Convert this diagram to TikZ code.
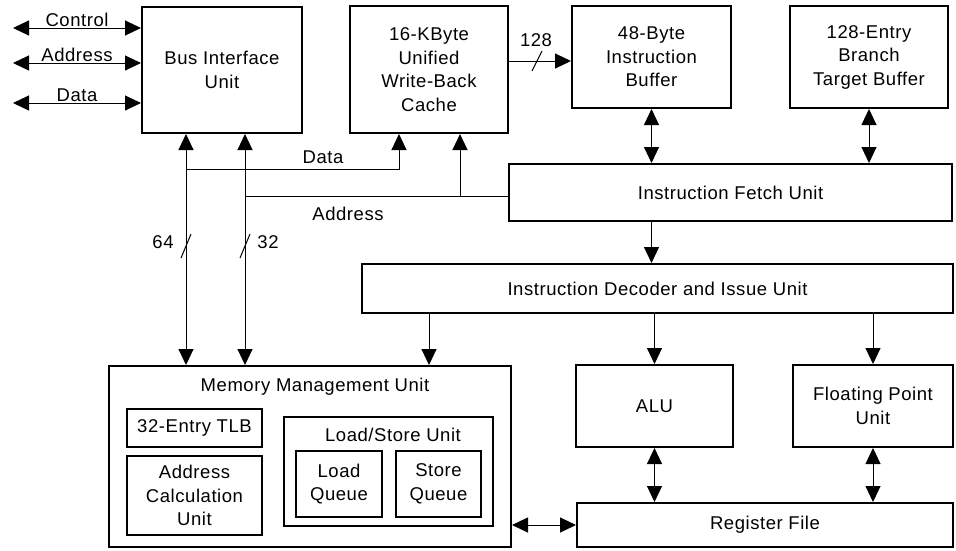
\documentclass[tikz,border=0pt]{standalone}
\usepackage{fontspec}
\setmainfont{Liberation Sans}[LetterSpace=3]
\usetikzlibrary{arrows.meta}

\begin{document}
\begin{tikzpicture}[
  x=1pt, y=-1pt,
  font=\fontsize{18.5}{23.5}\selectfont,
  >={Triangle[length=16pt,width=15pt]},
  unit/.style={draw, line width=2pt, align=center, inner sep=0pt},
  part/.style={draw, line width=1.3pt, align=center, inner sep=0pt},
  bus/.style={line width=1pt},
  lbl/.style={inner sep=1pt},
]

\useasboundingbox (0,0) rectangle (956,550);

% top row
\node [unit, minimum width=160pt, minimum height=126pt] (biu) at (222,70) {Bus Interface\\Unit};
\node [unit, minimum width=158pt, minimum height=127pt] (cache) at (429,69.5) {16-KByte\\Unified\\Write-Back\\Cache};
\node [unit, minimum width=159pt, minimum height=102pt] (ib) at (651.5,57) {48-Byte\\Instruction\\Buffer};
\node [unit, minimum width=158pt, minimum height=102pt] (btb) at (869,57) {128-Entry\\Branch\\Target Buffer};

\node [unit, minimum width=443pt, minimum height=57pt] (ifu) at (730.5,192.5) {Instruction Fetch Unit};
\node [unit, minimum width=591pt, minimum height=49pt] (idiu) at (657.5,288.5) {Instruction Decoder and Issue Unit};

% memory management
\node [unit, minimum width=402pt, minimum height=181pt] (mmu) at (310,456.5) {};
\node [lbl] (mmutitle) at (315,387) {Memory Management Unit};
\node [part, minimum width=135pt, minimum height=38pt] (tlb) at (194.5,428) {32-Entry TLB};
\node [part, minimum width=135pt, minimum height=79pt] (acu) at (194.5,495.5) {Address\\Calculation\\Unit};
\node [part, minimum width=209pt, minimum height=109pt] (lsu) at (388.5,471.5) {};
\node [lbl] (lsutitle) at (393,435) {Load/Store Unit};
\node [part, minimum width=86pt, minimum height=66pt] (lq) at (339,484) {Load\\Queue};
\node [part, minimum width=85pt, minimum height=66pt] (sq) at (438.5,484) {Store\\Queue};

% execution
\node [unit, minimum width=157pt, minimum height=82pt] (alu) at (654.5,406) {ALU};
\node [unit, minimum width=160pt, minimum height=82pt] (fpu) at (873,406) {Floating Point\\Unit};
\node [unit, minimum width=376pt, minimum height=44pt] (rf) at (765,525) {Register File};

% external bus
\coordinate (ctl) at (13,28);
\coordinate (adrin) at (13,63);
\coordinate (datin) at (13,103);
\draw [bus, <->] (ctl) -- (ctl -| biu.west) node [lbl, midway, above] (ctllbl) {Control};
\draw [bus, <->] (adrin) -- (adrin -| biu.west) node [lbl, midway, above] (adrlbl) {Address};
\draw [bus, <->] (datin) -- (datin -| biu.west) node [lbl, midway, above] (datlbl) {Data};

% internal buses
\coordinate (bus64) at (186,0);
\coordinate (bus32) at (245,0);
\coordinate (dbus) at (399,169);
\coordinate (abus) at (460,196);
\draw [bus, <->] (bus64 |- biu.south) -- (bus64 |- mmu.north);
\draw [bus, <->] (bus32 |- biu.south) -- (bus32 |- mmu.north);
\draw [bus, ->] (bus64 |- dbus) -- (dbus) -- (dbus |- cache.south);
\draw [bus] (bus32 |- abus) -- (abus -| ifu.west);
\draw [bus, ->] (abus) -- (abus |- cache.south);
\node [lbl] (dbuslbl) at (323,157) {Data};
\node [lbl] (abuslbl) at (348,214) {Address};

\draw [bus] (bus64 |- 0,246) ++(-5,12) -- ++(10,-24);
\draw [bus] (bus32 |- 0,246) ++(-5,12) -- ++(10,-24);
\node [lbl] (w64) at (163,242) {64};
\node [lbl] (w32) at (268,242) {32};

\coordinate (w128) at (537,61);
\draw [bus, ->] (w128 -| cache.east) -- (w128 -| ib.west);
\draw [bus] (w128) ++(-5,10) -- ++(10,-20);
\node [lbl] (lbl128) at (536,40) {128};

% fetch and issue
\draw [bus, <->] (ib.south) -- (ib.south |- ifu.north);
\draw [bus, <->] (btb.south) -- (btb.south |- ifu.north);
\draw [bus, ->] (ifu.south -| ib) -- (idiu.north -| ib);
\coordinate (iss) at (429,0);
\draw [bus, ->] (idiu.south -| iss) -- (mmu.north -| iss);
\draw [bus, ->] (idiu.south -| alu) -- (alu.north);
\draw [bus, ->] (idiu.south -| fpu) -- (fpu.north);

% register file
\draw [bus, <->] (alu.south) -- (alu.south |- rf.north);
\draw [bus, <->] (fpu.south) -- (fpu.south |- rf.north);
\draw [bus, <->] (mmu.east |- rf) -- (rf.west);

\end{tikzpicture}
\end{document}
